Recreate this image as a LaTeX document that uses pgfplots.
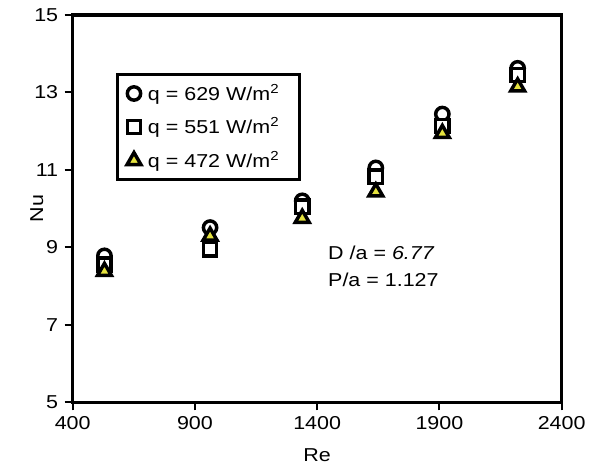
\documentclass[border=0pt]{standalone}
\usepackage{pgfplots}
\pgfplotsset{compat=1.18}
\usepackage{fontspec}
\setmainfont{Liberation Sans}[FakeStretch=1.15]
\definecolor{triyellow}{RGB}{228,226,62}
\begin{document}
\fontsize{14}{17}\selectfont
\begin{tikzpicture}
\useasboundingbox (-54.5pt,-51.5pt) rectangle (388pt,301.75pt);
\begin{axis}[
  at={(0,0)}, anchor=south west,
  scale only axis, width=366.75pt, height=290.6pt,
  xmin=400, xmax=2400, ymin=5, ymax=15,
  xtick={400,900,1400,1900,2400},
  ytick={5,7,9,11,13,15},
  xtick pos=bottom, ytick pos=left,
  tick align=outside,
  major tick length=6pt,
  tick style={line width=1.5pt, black},
  axis line style={line width=2.5pt},
  /pgf/number format/assume math mode=true,
  /pgf/number format/set thousands separator={},
  tick label style={font=\fontsize{14}{17}\selectfont},
  xlabel={Re}, ylabel={Nu},
  label style={font=\fontsize{14}{17}\selectfont},
  xlabel style={at={(axis description cs:0.5,0)}, anchor=center, yshift=-40pt},
  ylabel style={at={(axis description cs:-0.0736,0.5)}, anchor=center},
  legend cell align=left,
  legend image code/.code={\path[draw=none,fill=none] (-9.5pt,0) -- (8.5pt,0); \draw[#1] plot coordinates {(0pt,0pt)};},
  legend style={at={(0.0886,0.849)}, anchor=north west, draw=black, line width=2pt,
    font=\fontsize{14}{17}\selectfont, row sep=7pt, inner xsep=3pt, inner ysep=5pt},
  clip=false,
]
\addplot[only marks, line width=2.6pt, mark=o, mark size=5pt, mark options={line width=2.6pt, draw=black, fill=white}]
  coordinates {(530,8.78) (962,9.51) (1339,10.2) (1640,11.05) (1912,12.44) (2220,13.62)};
\addlegendentry{q = 629 W/m\textsuperscript{2}\rule{10pt}{0pt}}
\addplot[only marks, line width=2.6pt, mark=square*, mark size=5pt, mark options={line width=2.6pt, draw=black, fill=white}]
  coordinates {(530,8.55) (962,8.95) (1339,10.05) (1640,10.82) (1912,12.13) (2220,13.45)};
\addlegendentry{q = 551 W/m\textsuperscript{2}\rule{10pt}{0pt}}
\addplot[only marks, line width=2.6pt, mark=triangle*, mark size=6pt, mark options={line width=2.6pt, draw=black, fill=triyellow}]
  coordinates {(530,8.38) (962,9.29) (1339,9.75) (1640,10.43) (1912,11.94) (2220,13.14)};
\addlegendentry{q = 472 W/m\textsuperscript{2}\rule{10pt}{0pt}}
\node[anchor=west, inner sep=0pt] at (axis cs:1444,8.85) {D /a = \textit{6.77}};
\node[anchor=west, inner sep=0pt] at (axis cs:1444,8.16) {P/a = 1.127};
\end{axis}
\end{tikzpicture}
\end{document}
